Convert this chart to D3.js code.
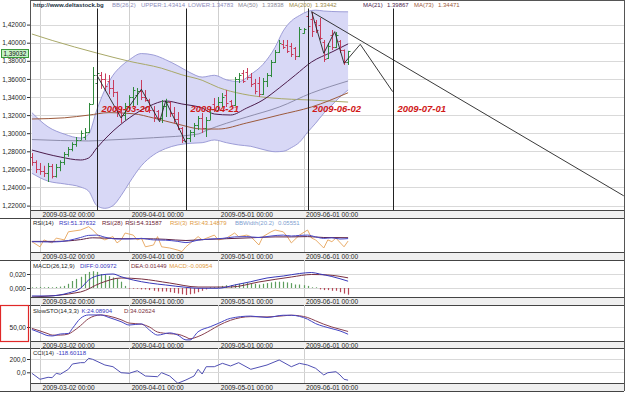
<!DOCTYPE html>
<html><head><meta charset="utf-8">
<script src="https://cdn.jsdelivr.net/npm/d3@7"></script>
<style>
body{margin:0;background:#fff;}
svg{display:block;}
text{font-family:"Liberation Sans",Arial,sans-serif;}
</style>
</head><body>
<svg id="c" width="625" height="393"></svg>
<script>
// ---------------- DATA ----------------
const firstDate = "2009-02-26";
const opens  = [1.2740,1.2680,1.2600,1.2580,1.2560,1.2640,1.2530,1.2630,1.2680,1.2770,1.2830,1.2880,1.2930,1.2960,1.3010,1.3320,1.3560,1.3640,1.3600,1.3580,1.3500,1.3450,1.3230,1.3200,1.3300,1.3400,1.3420,1.3470,1.3400,1.3370,1.3260,1.3240,1.3170,1.3300,1.3340,1.3220,1.3160,1.3060,1.2910,1.2950,1.3010,1.3090,1.3170,1.3060,1.3150,1.3320,1.3260,1.3350,1.3420,1.3360,1.3310,1.3600,1.3660,1.3680,1.3620,1.3560,1.3550,1.3430,1.3580,1.3640,1.3790,1.3900,1.3990,1.3980,1.3960,1.3940,1.3850,1.4110,1.4290,1.4260,1.4230,1.4200,1.4010,1.3830,1.4080,1.3950,1.4020,1.3920,1.3790];
const highs  = [1.2781,1.2700,1.2671,1.2640,1.2671,1.2660,1.2660,1.2700,1.2792,1.2847,1.2900,1.2958,1.3030,1.3057,1.3334,1.3731,1.3731,1.3676,1.3660,1.3643,1.3588,1.3460,1.3289,1.3334,1.3420,1.3510,1.3499,1.3588,1.3477,1.3380,1.3300,1.3256,1.3367,1.3380,1.3350,1.3289,1.3234,1.3068,1.2958,1.3035,1.3113,1.3190,1.3223,1.3179,1.3289,1.3389,1.3400,1.3444,1.3477,1.3367,1.3621,1.3665,1.3698,1.3720,1.3665,1.3600,1.3621,1.3610,1.3665,1.3809,1.3919,1.4030,1.4030,1.4030,1.3997,1.3952,1.4173,1.4162,1.4306,1.4338,1.4251,1.4273,1.4030,1.3997,1.4140,1.4118,1.4030,1.3925,1.3910];
const lows   = [1.2640,1.2560,1.2540,1.2516,1.2461,1.2500,1.2510,1.2580,1.2650,1.2740,1.2800,1.2850,1.2925,1.2925,1.3002,1.3320,1.3510,1.3490,1.3470,1.3430,1.3400,1.3179,1.3113,1.3146,1.3260,1.3289,1.3311,1.3366,1.3348,1.3223,1.3124,1.3146,1.3113,1.3179,1.3179,1.3113,1.3035,1.2892,1.2885,1.2903,1.2958,1.3035,1.3002,1.2958,1.3146,1.3234,1.3256,1.3289,1.3289,1.3289,1.3300,1.3555,1.3555,1.3588,1.3510,1.3430,1.3400,1.3422,1.3510,1.3620,1.3776,1.3886,1.3930,1.3886,1.3842,1.3809,1.3840,1.4100,1.4107,1.4063,1.4107,1.4030,1.3787,1.3820,1.3919,1.3940,1.3886,1.3754,1.3754];
const closes = [1.2680,1.2600,1.2580,1.2560,1.2640,1.2530,1.2630,1.2680,1.2770,1.2830,1.2880,1.2930,1.3000,1.3010,1.3320,1.3640,1.3660,1.3600,1.3520,1.3500,1.3450,1.3230,1.3200,1.3300,1.3400,1.3480,1.3470,1.3400,1.3370,1.3260,1.3180,1.3170,1.3300,1.3340,1.3220,1.3160,1.3060,1.2930,1.2950,1.3010,1.3090,1.3170,1.3060,1.3150,1.3270,1.3260,1.3350,1.3400,1.3330,1.3310,1.3600,1.3640,1.3580,1.3620,1.3540,1.3470,1.3430,1.3580,1.3640,1.3790,1.3900,1.4000,1.3950,1.3910,1.3870,1.3850,1.4150,1.4150,1.4180,1.4130,1.4140,1.4050,1.3820,1.3960,1.3950,1.4090,1.3920,1.3790,1.3903];

// Bollinger band (26,2)
const bbIdx   = [0,4,8,12,14,16,18,20,22,24,27,30,33,36,39,42,45,48,51,54,57,60,62,64,66,68,70,72,74,76,78];
const bbUpper = [1.3227,1.3070,1.2990,1.2947,1.2990,1.3256,1.3480,1.3640,1.3740,1.3810,1.3880,1.3864,1.3812,1.3745,1.3670,1.3620,1.3640,1.3590,1.3570,1.3650,1.3760,1.3950,1.4130,1.4240,1.4300,1.4345,1.4360,1.4350,1.4345,1.4342,1.4341];
const bbLower = [1.2557,1.2470,1.2440,1.2405,1.2360,1.2200,1.2170,1.2200,1.2310,1.2450,1.2640,1.2760,1.2830,1.2870,1.2888,1.2895,1.2925,1.2895,1.2870,1.2855,1.2820,1.2795,1.2800,1.2840,1.2900,1.3010,1.3110,1.3220,1.3310,1.3400,1.3478];

// Moving averages
const ma200Idx = [0,5,16,24,32,37,42,46,52,59,64,69,78];
const ma200    = [1.4096,1.4025,1.3886,1.3795,1.3718,1.3645,1.3585,1.3505,1.3433,1.3390,1.3375,1.3366,1.3344];
const ma73Idx  = [0,8,14,19,25,30,36,42,46,53,61,69,78];
const ma73     = [1.3157,1.3170,1.3200,1.3227,1.3215,1.3168,1.3100,1.3046,1.3046,1.3113,1.3201,1.3290,1.3447];
const ma50Idx  = [0,14,19,30,41,43,48,53,61,69,78];
const ma50     = [1.2930,1.2914,1.2925,1.2950,1.2991,1.3030,1.3110,1.3179,1.3289,1.3444,1.3577];
const ma21Idx  = [0,7,12,14,16,19,24,29,33,37,42,45,49,53,57,61,65,69,74,78];
const ma21     = [1.2814,1.2737,1.2704,1.2726,1.2836,1.2980,1.3168,1.3300,1.3356,1.3323,1.3278,1.3212,1.3201,1.3278,1.3367,1.3499,1.3643,1.3787,1.3897,1.3987];

// Hand-drawn annotation lines: [bar index, price]
const zigzag1 = [[16,1.3643],[22,1.3168],[27,1.3485],[31.5,1.3127],[33,1.3356],[38,1.2895]];
const zigzag2 = [[69,1.4343],[72,1.3883],[74.7,1.4122],[77,1.3772],[81,1.3982],[89,1.3459]];
const trendLine = [[69,1.4343],[146,1.2308]];
const cycleDates = ["2009-03-20","2009-04-21","2009-06-02","2009-07-01"];

// Axis ticks
const priceTicks = [1.22,1.24,1.26,1.28,1.30,1.32,1.34,1.36,1.38,1.40,1.42];
const lastPrice = 1.39032;
const dateTicks = ["2009-03-02","2009-04-01","2009-05-01","2009-06-01"];

// RSI panel
const rsi3Idx = [0,2,3,4,5,6,8,9,12,14,15,17,18,20,21,22,23,25,26,27,28,30,31,32,34,36,37,38,41,42,45,46,48,50,51,53,54,56,57,59,60,62,63,64,66,68,69,70,72,73,74,75,77,78];
const rsi3    = [41,24,47,41,37,53,47,74,80,91,80,53,47,58,37,47,70,63,47,53,24,30,58,24,20,13,8,24,58,47,63,47,53,70,58,63,58,30,58,74,80,74,58,37,63,80,53,47,20,47,41,53,24,43.15];
const rsi14Idx = [0,5,9,12,14,16,18,21,24,27,30,33,36,38,41,44,47,50,53,56,59,62,64,66,68,70,72,74,76,78];
const rsi14    = [41,40,45,55,62,63,56,50,50,52,47,46,42,38,46,50,52,57,58,55,60,63,60,62,63,57,52,54,50,51.38];
const rsi28Idx = [0,6,12,15,18,22,27,33,38,42,48,54,60,64,68,72,78];
const rsi28    = [42,42,48,54,53,51,51,49,45,48,51,54,57,57,58,55,54.32];

// MACD panel
const macdIdx = [0,4,9,12,14,17,20,22,25,29,33,38,41,46,50,54,58,62,66,69,71,74,78];
const macdDiff= [-0.0114,-0.0114,-0.0071,-0.0004,0.0114,0.0186,0.0200,0.0161,0.0114,0.0071,0.0043,0.0010,-0.0004,-0.0004,0.0043,0.0090,0.0143,0.0171,0.0207,0.0221,0.0200,0.0164,0.00972];
const deaIdx  = [0,12,17,22,27,34,41,49,56,64,69,73,78];
const macdDea = [-0.0129,-0.0057,0.0071,0.0143,0.0129,0.0071,0.0014,0.0014,0.0086,0.0157,0.0193,0.0186,0.01449];
const macdHist= [0.001,0.001,0.0015,0.001,0.0015,0.001,0.0015,0.002,0.003,0.006,0.010,0.013,0.016,0.020,0.023,0.024,0.023,0.020,0.019,0.017,0.015,0.013,0.009,0.003,-0.001,-0.001,-0.001,-0.002,-0.002,-0.003,-0.004,-0.005,-0.005,-0.005,-0.006,-0.007,-0.008,-0.009,-0.010,-0.009,-0.008,-0.006,-0.004,-0.002,0.001,0.001,0.002,0.003,0.004,0.004,0.005,0.006,0.007,0.007,0.007,0.006,0.005,0.006,0.007,0.008,0.009,0.009,0.009,0.008,0.007,0.005,0.005,0.004,0.003,0.001,0.001,-0.002,-0.003,-0.003,-0.004,-0.004,-0.006,-0.008,-0.00954];
const macdTicks = [0, 0.02];

// Slow stochastic panel
const stoIdx = [0,2,4,5,7,9,10,12,14,17,19,22,24,27,29,31,34,36,38,39,41,44,46,49,54,58,62,64,66,68,70,72,74,76,78];
const stoK   = [41,30,19,18,25,27,45,81,93,93,84,69,57,61,39,21,29,21,4,4,33,51,63,81,89,84,92,92,88,78,62,52,44,36,24.09];
const stoD   = [45,36,26,21,21,25,33,55,80,93,89,76,64,60,50,32,26,24,14,8,16,38,55,74,87,86,90,92,90,84,72,60,50,42,34.03];
const stoTicks = [50];

// CCI panel
const cciIdx = [0,2,4,5,6,7,9,10,12,13,14,15,18,20,22,24,26,28,31,32,34,36,38,40,41,42,43,45,47,49,51,54,58,61,64,66,68,70,72,73,75,76,77,78];
const cci    = [-15,-105,-75,-81,-15,-30,45,125,145,145,210,195,110,84,-6,-15,24,-56,-66,-6,-56,-165,-115,-56,45,-26,84,84,135,95,145,45,110,185,84,135,110,60,-40,-6,9,-40,-105,-118.6];
const cciTicks = [0, 200];

// ---------------- DRAWING ----------------
const svg = d3.select("#c");
const L = 30, R = 624;
function barIndex(s){
  const t0 = new Date(firstDate+"T00:00:00Z"), d = new Date(s+"T00:00:00Z");
  let n = 0;
  for (let t = new Date(t0); t < d; t.setUTCDate(t.getUTCDate()+1)) { const w = t.getUTCDay(); if (w!==0 && w!==6) n++; }
  return n;
}
const x = d3.scaleLinear().domain([barIndex("2009-03-02"), barIndex("2009-06-01")]).range([40, 303.5]);
const tickIdx = dateTicks.map(barIndex);
const comma = f => v => d3.format(f)(v).replace(".", ",");

const panels = [
  {top: 8.5, bottom: 210, strip: [210, 218]},
  {top: 218, bottom: 252, strip: [252, 260]},
  {top: 260, bottom: 297, strip: [297, 305]},
  {top: 305, bottom: 341, strip: [341, 348]},
  {top: 348, bottom: 383, strip: [383, 391]}
];

const defs = svg.append("defs");
panels.forEach((p, k) => {
  defs.append("clipPath").attr("id", "clip"+k).append("rect")
    .attr("x", L).attr("y", p.top).attr("width", R-L).attr("height", p.bottom-p.top);
});

const gridColor = "#d9d9d9";
panels.forEach((p, k) => {
  const g = svg.append("g");
  g.selectAll("line.v").data(tickIdx).join("line")
    .attr("x1", d => Math.round(x(d))+0.5).attr("x2", d => Math.round(x(d))+0.5)
    .attr("y1", k===0 ? 0 : p.top).attr("y2", p.bottom).attr("stroke", "#cfcfcf");
  g.append("rect").attr("x", L).attr("y", p.strip[0]).attr("width", R-L).attr("height", p.strip[1]-p.strip[0]).attr("fill", "#efefef");
  g.append("line").attr("x1", L).attr("x2", R).attr("y1", p.strip[0]+0.5).attr("y2", p.strip[0]+0.5).attr("stroke", "#444");
  g.append("line").attr("x1", 0).attr("x2", R).attr("y1", p.strip[1]+0.5).attr("y2", p.strip[1]+0.5).attr("stroke", "#444");
  const ax = g.append("g").attr("transform", `translate(0,${p.strip[0]})`)
    .call(d3.axisBottom(x).tickValues(tickIdx).tickSize(0).tickFormat((d,i) => dateTicks[i]+" 00:00"));
  ax.select(".domain").remove();
  ax.selectAll("text").attr("text-anchor", "start").attr("dx", 2).attr("y", 0).attr("dy", "6.9px")
    .attr("font-size", "6.6px").attr("fill", "#222").attr("font-family", "Liberation Sans, Arial, sans-serif");
});

function leftAxis(yScale, ticks, fmt) {
  svg.append("g").selectAll("line").data(ticks).join("line")
    .attr("x1", L).attr("x2", R).attr("y1", d => Math.round(yScale(d))+0.5).attr("y2", d => Math.round(yScale(d))+0.5)
    .attr("stroke", gridColor);
  const ax = svg.append("g").attr("transform", `translate(${L},0)`)
    .call(d3.axisLeft(yScale).tickValues(ticks).tickFormat(fmt).tickSize(3).tickPadding(1));
  ax.select(".domain").remove();
  ax.selectAll("line").attr("stroke", "#333");
  ax.selectAll("text").attr("font-size", "6.6px").attr("fill", "#222").attr("font-family", "Liberation Sans, Arial, sans-serif");
}

// header rows: each item at its reference position, pushed right only if it would overlap
function header(items, yb) {
  let prevEnd = -10;
  items.forEach(it => {
    const t = svg.append("text").attr("y", yb).text(it[1])
      .attr("font-size", "6px").attr("fill", it[2]).attr("font-weight", it[3] || "normal");
    const w = t.node().getComputedTextLength();
    const xx = Math.max(it[0], prevEnd + 2.5);
    t.attr("x", xx);
    prevEnd = xx + w;
  });
}

// ---- main panel ----
const y0 = d3.scaleLinear().domain([1.22, 1.42]).range([205.6, 24.6]);
leftAxis(y0, priceTicks, comma(".5f"));
const main = svg.append("g").attr("clip-path", "url(#clip0)");
const curve = d3.curveMonotoneX;

const bandArea = d3.area().x((d,i) => x(bbIdx[i])).y0((d,i) => y0(bbLower[i])).y1(d => y0(d)).curve(curve);
main.append("path").datum(bbUpper).attr("d", bandArea).attr("fill", "#d8d8f6");
const lineOf = (idx) => d3.line().x((d,i) => x(idx[i])).y(d => y0(d)).curve(curve);
main.append("path").datum(bbUpper).attr("d", lineOf(bbIdx)).attr("fill", "none").attr("stroke", "#9494d2").attr("stroke-width", 0.9);
main.append("path").datum(bbLower).attr("d", lineOf(bbIdx)).attr("fill", "none").attr("stroke", "#9494d2").attr("stroke-width", 0.9);

main.append("path").datum(ma200).attr("d", lineOf(ma200Idx)).attr("fill", "none").attr("stroke", "#a8a868").attr("stroke-width", 1);
main.append("path").datum(ma50).attr("d", lineOf(ma50Idx)).attr("fill", "none").attr("stroke", "#8e8eac").attr("stroke-width", 1);
main.append("path").datum(ma73).attr("d", lineOf(ma73Idx)).attr("fill", "none").attr("stroke", "#9c5a3c").attr("stroke-width", 1);
main.append("path").datum(ma21).attr("d", lineOf(ma21Idx)).attr("fill", "none").attr("stroke", "#4c1c4c").attr("stroke-width", 1);

// OHLC bars
const bars = main.append("g").selectAll("g").data(closes.map((c,i) => i)).join("g")
  .attr("stroke", i => closes[i] >= opens[i] ? "#2f8a3c" : "#c83c5c").attr("stroke-width", 1);
bars.append("line").attr("x1", i => Math.round(x(i))+0.5).attr("x2", i => Math.round(x(i))+0.5)
  .attr("y1", i => y0(highs[i])).attr("y2", i => y0(lows[i]));
bars.append("line").attr("x1", i => Math.round(x(i))-1.5).attr("x2", i => Math.round(x(i))+0.5)
  .attr("y1", i => Math.round(y0(opens[i]))+0.5).attr("y2", i => Math.round(y0(opens[i]))+0.5);
bars.append("line").attr("x1", i => Math.round(x(i))+0.5).attr("x2", i => Math.round(x(i))+2.5)
  .attr("y1", i => Math.round(y0(closes[i]))+0.5).attr("y2", i => Math.round(y0(closes[i]))+0.5);

// annotations
const annLine = d3.line().x(d => x(d[0])).y(d => y0(d[1]));
[zigzag1, zigzag2, trendLine].forEach(a => main.append("path").datum(a).attr("d", annLine)
  .attr("fill", "none").attr("stroke", "#222").attr("stroke-width", 0.9));
cycleDates.forEach(d => {
  const xi = Math.round(x(barIndex(d)))+0.5;
  svg.append("line").attr("x1", xi).attr("x2", xi).attr("y1", 8.5).attr("y2", 210).attr("stroke", "#222").attr("stroke-width", 1);
  svg.append("text").attr("x", xi+4).attr("y", 112).text(d)
    .attr("font-size", "9.5px").attr("font-weight", "bold").attr("font-style", "italic").attr("fill", "#d01818");
});

// last price box
svg.append("rect").attr("x", 1.5).attr("y", 49.5).attr("width", 27).attr("height", 8)
  .attr("fill", "#c6f2c6").attr("stroke", "#3a9a3a").attr("stroke-width", 1);
svg.append("text").attr("x", 15).attr("y", 55.6).attr("text-anchor", "middle").text(comma(".5f")(lastPrice))
  .attr("font-size", "6.3px").attr("fill", "#111");

header([[33,"http://www.deltastock.bg","#223344","bold"],[112,"BB(26,2)","#8c8cba"],[141,"UPPER:1.43414","#8c8cba"],
  [188,"LOWER:1.34783","#8c8cba"],[238,"MA(50)","#8a8a98"],[262,"1.33838","#8a8a98"],[289,"MA(200)","#9a8a48"],
  [315,"1.33442","#9a8a48"],[363,"MA(21)","#4c1c4c"],[387,"1.39867","#4c1c4c"],[414,"MA(73)","#9c5a3c"],[438,"1.34471","#9c5a3c"]], 7);

// ---- RSI panel ----
const y1 = d3.scaleLinear().domain([0,100]).range([254,224]);
const rsiG = svg.append("g").attr("clip-path", "url(#clip1)");
const l1 = idx => d3.line().x((d,i) => x(idx[i])).y(d => y1(d));
rsiG.append("path").datum(rsi3).attr("d", l1(rsi3Idx)).attr("fill", "none").attr("stroke", "#e6a45a").attr("stroke-width", 0.9);
rsiG.append("path").datum(rsi28).attr("d", l1(rsi28Idx).curve(curve)).attr("fill", "none").attr("stroke", "#5c2044").attr("stroke-width", 1);
rsiG.append("path").datum(rsi14).attr("d", l1(rsi14Idx).curve(curve)).attr("fill", "none").attr("stroke", "#4848c8").attr("stroke-width", 1);
header([[33,"RSI(14)","#222"],[59,"RSI:51.37632","#3838c0"],[102,"RSI(28)","#6a2030"],[121,"RSI:54.31587","#6a2030"],
  [170,"RSI(3)","#e09a40"],[187,"RSI:43.14879","#e09a40"],[235,"BBWidth(20.2)","#80a0d0"],[278,"0.05551","#80a0d0"]], 225);

// ---- MACD panel ----
const y2 = d3.scaleLinear().domain([0,0.02]).range([288,274]);
leftAxis(y2, macdTicks, comma(".3f"));
const macdG = svg.append("g").attr("clip-path", "url(#clip2)");
macdG.selectAll("line.h").data(macdHist).join("line")
  .attr("x1", (d,i) => Math.round(x(i))+0.5).attr("x2", (d,i) => Math.round(x(i))+0.5)
  .attr("y1", y2(0)).attr("y2", d => y2(d)).attr("stroke", d => d >= 0 ? "#5e9e5e" : "#b84858").attr("stroke-width", 1.2);
const l2 = idx => d3.line().x((d,i) => x(idx[i])).y(d => y2(d)).curve(curve);
macdG.append("path").datum(macdDea).attr("d", l2(deaIdx)).attr("fill", "none").attr("stroke", "#7a3040").attr("stroke-width", 1);
macdG.append("path").datum(macdDiff).attr("d", l2(macdIdx)).attr("fill", "none").attr("stroke", "#3838b8").attr("stroke-width", 1);
header([[33,"MACD(26,12,9)","#222"],[80,"DIFF:0.00972","#3838c0"],[131,"DEA:0.01449","#7a3040"],[162,"MACD:-0.00954","#e09a40"]], 268);

// ---- Slow STO panel ----
const y3 = d3.scaleLinear().domain([0,100]).range([341,313]);
leftAxis(y3, stoTicks, comma(".2f"));
const stoG = svg.append("g").attr("clip-path", "url(#clip3)");
const l3 = d3.line().x((d,i) => x(stoIdx[i])).y(d => y3(d)).curve(curve);
stoG.append("path").datum(stoD).attr("d", l3).attr("fill", "none").attr("stroke", "#8a4050").attr("stroke-width", 1);
stoG.append("path").datum(stoK).attr("d", l3).attr("fill", "none").attr("stroke", "#4444c4").attr("stroke-width", 1);
header([[33,"SlowSTO(14,3,3)","#222"],[79,"K:24.08904","#3838c0"],[124,"D:34.02624","#7a3040"]], 312.5);
svg.append("rect").attr("x", 0.5).attr("y", 305.5).attr("width", 28).attr("height", 36)
  .attr("fill", "none").attr("stroke", "#e02828").attr("stroke-width", 1.2);

// ---- CCI panel ----
const y4 = d3.scaleLinear().domain([0,200]).range([372.3,359]);
leftAxis(y4, cciTicks, comma(".1f"));
const cciG = svg.append("g").attr("clip-path", "url(#clip4)");
cciG.append("path").datum(cci).attr("d", d3.line().x((d,i) => x(cciIdx[i])).y(d => y4(d)))
  .attr("fill", "none").attr("stroke", "#5050b4").attr("stroke-width", 1);
header([[33,"CCI(14)","#222"],[53,"-118.60118","#3838c0"]], 354.7);

// frame lines
svg.append("line").attr("x1", L+0.5).attr("x2", L+0.5).attr("y1", 0).attr("y2", 391).attr("stroke", "#555");
svg.append("line").attr("x1", R+0.5).attr("x2", R+0.5).attr("y1", 0).attr("y2", 391).attr("stroke", "#555");
svg.append("line").attr("x1", 0).attr("x2", R).attr("y1", 218.5).attr("y2", 218.5).attr("stroke", "#444");
svg.append("line").attr("x1", L).attr("x2", R).attr("y1", 0.5).attr("y2", 0.5).attr("stroke", "#555");
</script>
</body></html>
